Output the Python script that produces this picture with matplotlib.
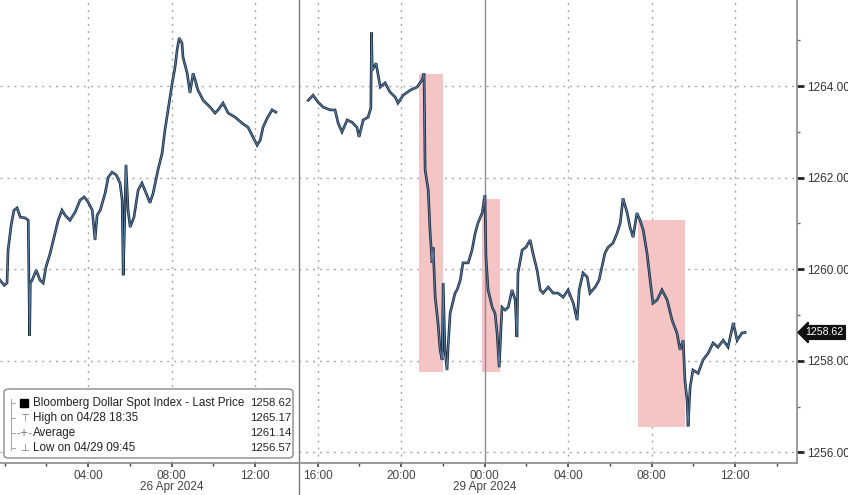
import matplotlib
matplotlib.use("Agg")
import matplotlib.pyplot as plt
from matplotlib.patches import FancyBboxPatch, Rectangle
from matplotlib.lines import Line2D
import matplotlib.transforms as mtransforms
import pandas as pd

plt.rcParams['font.family'] = ['Liberation Sans', 'DejaVu Sans']

# ---- data ----
s1_times = ["04-25 23:47", "04-25 23:59", "04-26 00:07", "04-26 00:10", "04-26 00:19", "04-26 00:27",
            "04-26 00:36", "04-26 00:45", "04-26 00:59", "04-26 01:08", "04-26 01:10", "04-26 01:12",
            "04-26 01:14", "04-26 01:19", "04-26 01:31", "04-26 01:42", "04-26 01:51", "04-26 01:59",
            "04-26 02:11", "04-26 02:25", "04-26 02:34", "04-26 02:45", "04-26 02:54", "04-26 03:08",
            "04-26 03:23", "04-26 03:37", "04-26 03:49", "04-26 04:00", "04-26 04:12", "04-26 04:20",
            "04-26 04:26", "04-26 04:35", "04-26 04:49", "04-26 04:58", "04-26 05:09", "04-26 05:21",
            "04-26 05:32", "04-26 05:38", "04-26 05:41", "04-26 05:44", "04-26 05:49", "04-26 05:55",
            "04-26 06:01", "04-26 06:12", "04-26 06:24", "04-26 06:35", "04-26 06:47", "04-26 06:58",
            "04-26 07:07", "04-26 07:21", "04-26 07:33", "04-26 07:41", "04-26 07:50", "04-26 08:02",
            "04-26 08:10", "04-26 08:16", "04-26 08:22", "04-26 08:30", "04-26 08:33", "04-26 08:45",
            "04-26 08:53", "04-26 09:02", "04-26 09:08", "04-26 09:16", "04-26 09:31", "04-26 09:51",
            "04-26 10:05", "04-26 10:14", "04-26 10:28", "04-26 10:43", "04-26 11:03", "04-26 11:23",
            "04-26 11:40", "04-26 11:54", "04-26 12:06", "04-26 12:15", "04-26 12:23", "04-26 12:35",
            "04-26 12:49", "04-26 13:00"]
s1_values = [1259.76, 1259.65, 1259.70, 1260.42, 1260.97, 1261.29,
             1261.34, 1261.14, 1261.12, 1261.07, 1259.70, 1258.55,
             1259.70, 1259.76, 1259.98, 1259.76, 1259.70, 1260.05,
             1260.35, 1260.79, 1261.07, 1261.29, 1261.18, 1261.07,
             1261.25, 1261.51, 1261.58, 1261.47, 1261.29, 1260.64,
             1261.18, 1261.29, 1261.66, 1262.01, 1262.12, 1262.06,
             1261.88, 1261.51, 1259.87, 1260.70, 1262.28, 1261.29,
             1260.92, 1261.14, 1261.73, 1261.88, 1261.66, 1261.45,
             1261.66, 1262.17, 1262.54, 1263.04, 1263.48, 1264.07,
             1264.41, 1264.79, 1265.05, 1264.94, 1264.63, 1264.28,
             1263.85, 1264.28, 1264.13, 1263.91, 1263.69, 1263.54,
             1263.41, 1263.48, 1263.63, 1263.41, 1263.32, 1263.19,
             1263.10, 1262.89, 1262.71, 1262.82, 1263.10, 1263.30,
             1263.48, 1263.43]

s2_times = ["04-28 15:33", "04-28 15:47", "04-28 16:01", "04-28 16:16", "04-28 16:36", "04-28 16:50",
            "04-28 16:59", "04-28 17:10", "04-28 17:25", "04-28 17:39", "04-28 17:53", "04-28 17:59",
            "04-28 18:11", "04-28 18:25", "04-28 18:33", "04-28 18:35", "04-28 18:37", "04-28 18:48",
            "04-28 19:00", "04-28 19:14", "04-28 19:28", "04-28 19:43", "04-28 19:51", "04-28 20:06",
            "04-28 20:26", "04-28 20:46", "04-28 21:00", "04-28 21:06", "04-28 21:09", "04-28 21:18",
            "04-28 21:23", "04-28 21:29", "04-28 21:32", "04-28 21:38", "04-28 21:46", "04-28 21:52",
            "04-28 21:58", "04-28 22:01", "04-28 22:06", "04-28 22:12", "04-28 22:15", "04-28 22:21",
            "04-28 22:35", "04-28 22:41", "04-28 22:50", "04-28 22:58", "04-28 23:13", "04-28 23:24",
            "04-28 23:33", "04-28 23:41", "04-28 23:53", "04-29 00:01", "04-29 00:04", "04-29 00:10",
            "04-29 00:22", "04-29 00:30", "04-29 00:36", "04-29 00:42", "04-29 00:50", "04-29 00:59",
            "04-29 01:08", "04-29 01:19", "04-29 01:28", "04-29 01:33", "04-29 01:36", "04-29 01:48",
            "04-29 01:59", "04-29 02:11", "04-29 02:19", "04-29 02:31", "04-29 02:40", "04-29 02:48",
            "04-29 03:03", "04-29 03:17", "04-29 03:31", "04-29 03:46", "04-29 04:00", "04-29 04:15",
            "04-29 04:26", "04-29 04:32", "04-29 04:43", "04-29 04:55", "04-29 05:03", "04-29 05:18",
            "04-29 05:29", "04-29 05:46", "04-29 05:55", "04-29 06:09", "04-29 06:21", "04-29 06:30",
            "04-29 06:38", "04-29 06:50", "04-29 06:58", "04-29 07:07", "04-29 07:18", "04-29 07:27",
            "04-29 07:36", "04-29 07:47", "04-29 07:56", "04-29 08:04", "04-29 08:16", "04-29 08:30",
            "04-29 08:45", "04-29 08:59", "04-29 09:13", "04-29 09:22", "04-29 09:31", "04-29 09:36",
            "04-29 09:42", "04-29 09:45", "04-29 09:51", "04-29 09:59", "04-29 10:14", "04-29 10:28",
            "04-29 10:43", "04-29 10:57", "04-29 11:11", "04-29 11:26", "04-29 11:40", "04-29 11:55",
            "04-29 12:06", "04-29 12:20", "04-29 12:29"]
s2_values = [1263.69, 1263.80, 1263.65, 1263.54, 1263.48, 1263.48,
             1263.19, 1263.00, 1263.26, 1263.21, 1263.10, 1262.89,
             1263.26, 1263.32, 1263.52, 1265.17, 1264.35, 1264.50,
             1263.98, 1264.07, 1263.87, 1263.76, 1263.63, 1263.80,
             1263.91, 1263.98, 1264.13, 1264.28, 1262.17, 1261.73,
             1260.86, 1260.14, 1260.48, 1259.39, 1258.83, 1258.24,
             1258.02, 1259.70, 1258.24, 1257.80, 1258.30, 1259.04,
             1259.48, 1259.55, 1259.76, 1260.14, 1260.14, 1260.42,
             1260.79, 1261.01, 1261.23, 1261.62, 1260.27, 1259.55,
             1259.17, 1259.04, 1258.61, 1257.86, 1259.17, 1259.11,
             1259.17, 1259.55, 1259.33, 1258.52, 1259.92, 1260.42,
             1260.48, 1260.64, 1260.35, 1259.98, 1259.55, 1259.48,
             1259.61, 1259.48, 1259.48, 1259.39, 1259.55, 1259.26,
             1258.89, 1259.55, 1259.92, 1259.83, 1259.48, 1259.61,
             1259.76, 1260.35, 1260.48, 1260.57, 1260.79, 1261.01,
             1261.55, 1261.23, 1260.92, 1260.70, 1261.23, 1261.07,
             1260.86, 1260.35, 1259.76, 1259.26, 1259.33, 1259.55,
             1259.33, 1258.89, 1258.61, 1258.24, 1258.45, 1257.58,
             1257.14, 1256.57, 1257.43, 1257.80, 1257.73, 1258.02,
             1258.17, 1258.39, 1258.30, 1258.45, 1258.30, 1258.83,
             1258.45, 1258.61, 1258.62]

# highlighted selloff windows: (start, end, low, high)
box_starts = ["04-28 20:52", "04-28 23:53", "04-29 07:21"]
box_ends = ["04-28 22:01", "04-29 00:45", "04-29 09:36"]
box_lows = [1257.76, 1257.76, 1256.55]
box_highs = [1264.26, 1261.53, 1261.07]

tick_hours = ["04-26 04:00", "04-26 08:00", "04-26 12:00", "04-28 16:00", "04-28 20:00",
              "04-29 00:00", "04-29 04:00", "04-29 08:00", "04-29 12:00"]
tick_labels = ["04:00", "08:00", "12:00", "16:00", "20:00", "00:00", "04:00", "08:00", "12:00"]
minor_hours = ["04-26 00:00", "04-26 02:00", "04-26 06:00", "04-26 10:00", "04-28 18:00",
               "04-28 22:00", "04-29 02:00", "04-29 06:00", "04-29 10:00", "04-29 14:00"]
date_labels = ["26 Apr 2024", "29 Apr 2024"]
date_label_at = ["04-26 08:00", "04-29 00:00"]

legend_names = ["Bloomberg Dollar Spot Index - Last Price", "High on 04/28 18:35", "Average", "Low on 04/29 09:45"]
legend_values = ["1258.62", "1265.17", "1261.14", "1256.57"]
last_price = 1258.62

# ---- compressed time axis (weekend removed) ----
T0 = pd.Timestamp("2024-04-26 00:00")
T1 = pd.Timestamp("2024-04-28 15:00")
def axis_x(s):
    ts = pd.Timestamp("2024-" + s)
    if ts < pd.Timestamp("2024-04-27"):
        return (ts - T0).total_seconds() / 3600
    return 14 + (ts - T1).total_seconds() / 3600

fig = plt.figure(figsize=(8.48, 4.95), dpi=100)
ax = fig.add_axes([0, 32 / 495, 797 / 848, 463 / 495])
ax.set_xlim(-0.22, 37.97)
ax.set_ylim(1255.77, 1265.88)

# grid
grid_kw = dict(color='#a8a8a8', lw=1.0, ls=(0, (1.5, 3.5)), zorder=0)
for v in [1256, 1258, 1260, 1262, 1264]:
    ax.axhline(v, **grid_kw)
for s in tick_hours:
    if s != "04-29 00:00":
        ax.axvline(axis_x(s), **grid_kw)

# shaded boxes
for a, b, lo, hi in zip(box_starts, box_ends, box_lows, box_highs):
    xa, xb = axis_x(a), axis_x(b)
    ax.add_patch(Rectangle((xa, lo), xb - xa, hi - lo, facecolor='#f5c4c4', edgecolor='none', zorder=1))

# separators
ax.axvline(axis_x("04-29 00:00"), color='#8c8c8c', lw=1.0, zorder=1)
bl = mtransforms.blended_transform_factory(ax.transData, ax.transAxes)
ax.plot([14.1, 14.1], [-32 / 463, 1], transform=bl, color='#7a7a7a', lw=1.0, zorder=1, clip_on=False)

# series
for times, vals in [(s1_times, s1_values), (s2_times, s2_values)]:
    xs = [axis_x(t) for t in times]
    ax.plot(xs, vals, color='#1c2a3c', lw=1.9, zorder=3, solid_joinstyle='miter')
    ax.plot(xs, vals, color='#6e9fcf', lw=0.7, zorder=4, alpha=0.75)

# spines & ticks
for sp in ['left', 'top']:
    ax.spines[sp].set_visible(False)
for sp in ['right', 'bottom']:
    ax.spines[sp].set_color('#8a8a8a')
    ax.spines[sp].set_linewidth(1.2)
ax.yaxis.tick_right()
ax.set_yticks([1256, 1258, 1260, 1262, 1264])
ax.set_yticklabels([f"{v:.2f}" for v in [1256, 1258, 1260, 1262, 1264]])
ax.set_yticks([1257, 1259, 1261, 1263, 1265], minor=True)
ax.tick_params(axis='y', which='major', length=5, width=2, color='#222222', labelsize=8.5,
               labelcolor='#333333', pad=2, direction='out')
ax.tick_params(axis='y', which='minor', length=2, width=1, color='#666666')
ax.set_xticks([axis_x(s) for s in tick_hours])
ax.set_xticklabels(tick_labels)
ax.set_xticks([axis_x(s) for s in minor_hours], minor=True)
ax.tick_params(axis='x', which='major', length=3, width=1.2, color='#444444', labelsize=8.5,
               labelcolor='#444444', pad=2)
ax.tick_params(axis='x', which='minor', length=2, width=1, color='#444444')

bt = mtransforms.blended_transform_factory(ax.transData, fig.transFigure)
for lab, at in zip(date_labels, date_label_at):
    fig.text(axis_x(at), 1 - 487 / 495, lab, transform=bt, ha='center', va='center',
             fontsize=8.5, color='#444444')

# last price tag
ax.annotate(f"{last_price:.2f}", xy=(1.0, last_price), xycoords=('axes fraction', 'data'),
            xytext=(6, 0), textcoords='offset points', ha='left', va='center', fontsize=7.6,
            color='white', annotation_clip=False,
            bbox=dict(boxstyle='larrow,pad=0.18', fc='#111111', ec='#111111'))

# legend box
W, H = 848, 495
def fx(px): return px / W
def fy(py): return 1 - py / H
fig.patches.append(FancyBboxPatch((fx(4), fy(458)), fx(293) - fx(4), fy(389) - fy(458),
                                  boxstyle='round,pad=0,rounding_size=0.006', transform=fig.transFigure,
                                  fc='white', ec='#8a8a8a', lw=1.0, zorder=5))
rows_y = [403, 418, 433, 448]
for i, (nm, val) in enumerate(zip(legend_names, legend_values)):
    fig.text(fx(33), fy(rows_y[i]), nm, ha='left', va='center', fontsize=8.4, color='#222222', zorder=6)
    fig.text(fx(291), fy(rows_y[i]), val, ha='right', va='center', fontsize=8.2, color='#222222', zorder=6)
fig.patches.append(Rectangle((fx(20), fy(407)), fx(8), 8 / H, transform=fig.transFigure,
                             fc='black', ec='black', zorder=6))
symbols = ["", "⊤", "-+-", "⊥"]
for i in range(1, 4):
    fig.text(fx(25), fy(rows_y[i]), symbols[i], ha='center', va='center', fontsize=7.5,
             color='#777777', zorder=6, family=['DejaVu Sans'])
fig.lines.append(Line2D([fx(11), fx(11)], [fy(399), fy(450)], transform=fig.transFigure,
                        color='#aaaaaa', lw=0.8, zorder=6))
for yy in rows_y:
    fig.lines.append(Line2D([fx(11), fx(15)], [fy(yy), fy(yy)], transform=fig.transFigure,
                            color='#aaaaaa', lw=0.8, zorder=6))

fig.savefig("out.png", dpi=100)
